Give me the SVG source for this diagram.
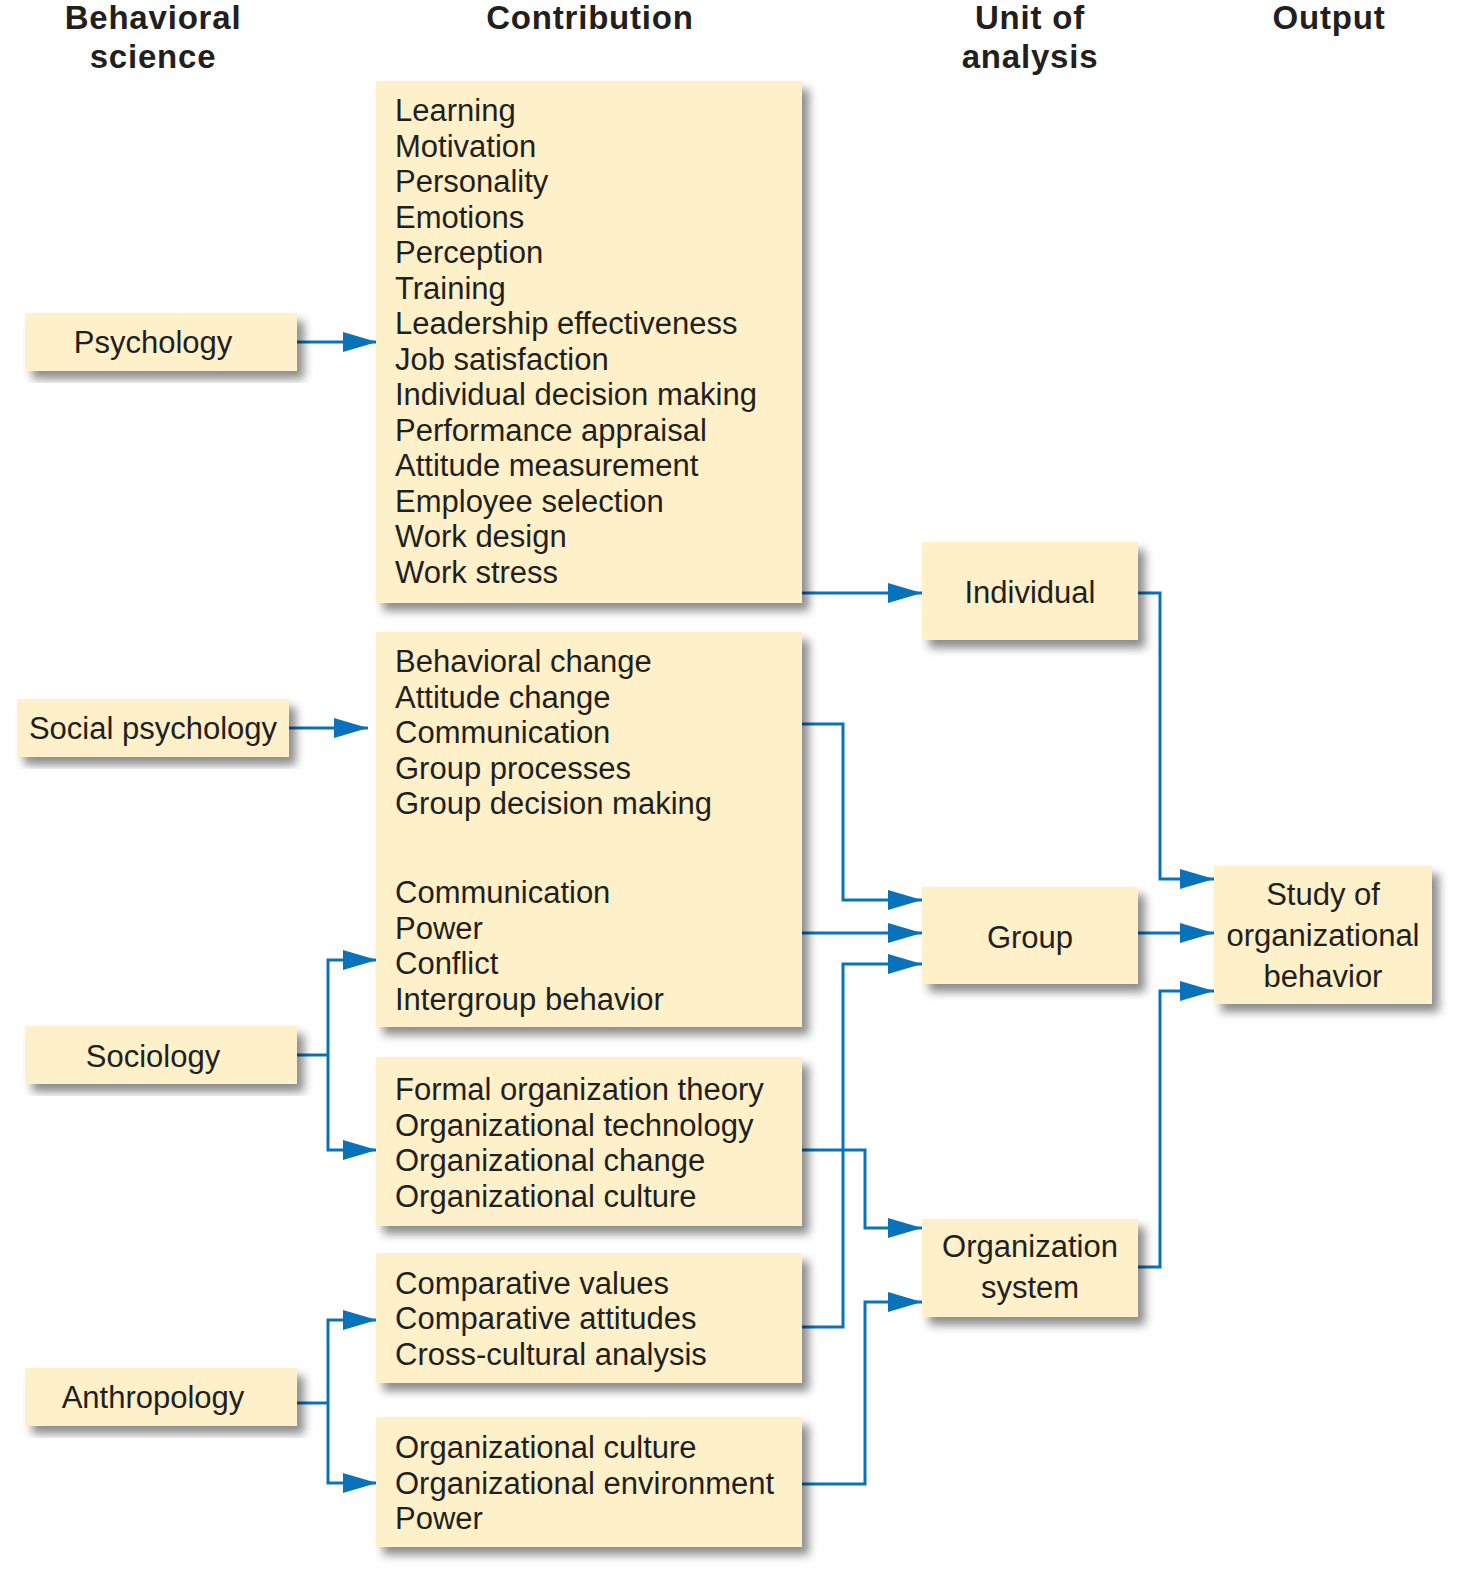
<svg xmlns="http://www.w3.org/2000/svg" width="1465" height="1581" viewBox="0 0 1465 1581">
<style>
.box{fill:#FEF0C9;filter:url(#sh)}
.t{font-family:"Liberation Sans",Arial,sans-serif;font-size:31px;fill:#231F20}
.c{text-anchor:middle}
.h{font-family:"Liberation Sans",Arial,sans-serif;font-size:33px;font-weight:bold;fill:#231F20;text-anchor:middle;letter-spacing:0.8px}
.ln{fill:none;stroke:#0A72BA;stroke-width:3}
.ar{marker-end:url(#ah)}
</style>
<defs>
<filter id="sh" x="-10%" y="-10%" width="130%" height="130%">
<feDropShadow dx="7" dy="8" stdDeviation="5" flood-color="#000" flood-opacity="0.45"/>
</filter>
<marker id="ah" markerUnits="userSpaceOnUse" markerWidth="34" markerHeight="20" refX="34" refY="10" orient="auto">
<path d="M0,0 L34,10 L0,20 z" fill="#0A72BA"/>
</marker>
</defs>
<rect width="1465" height="1581" fill="#fff"/>
<g id="headers">
<text class="h" x="153" y="29">Behavioral</text>
<text class="h" x="153" y="68">science</text>
<text class="h" x="590" y="29">Contribution</text>
<text class="h" x="1030" y="29">Unit of</text>
<text class="h" x="1030" y="68">analysis</text>
<text class="h" x="1329" y="29">Output</text>
</g>
<g id="connectors">
<path class="ln ar" d="M297,342 H377"/>
<path class="ln ar" d="M289,728 H368"/>
<path class="ln" d="M297,1055 H328"/>
<path class="ln ar" d="M328,1055 V960 H377"/>
<path class="ln ar" d="M328,1055 V1150 H377"/>
<path class="ln" d="M297,1403 H328"/>
<path class="ln ar" d="M328,1403 V1320 H377"/>
<path class="ln ar" d="M328,1403 V1483 H377"/>
<path class="ln ar" d="M802,593 H922"/>
<path class="ln ar" d="M802,724 H843 V900 H922"/>
<path class="ln ar" d="M802,933 H922"/>
<path class="ln ar" d="M802,1327 H843 V964 H922"/>
<path class="ln ar" d="M802,1150 H865 V1228 H922"/>
<path class="ln ar" d="M802,1484 H865 V1302 H922"/>
<path class="ln ar" d="M1138,593 H1160 V879 H1214"/>
<path class="ln ar" d="M1138,933 H1214"/>
<path class="ln ar" d="M1138,1267 H1160 V991 H1214"/>
</g>
<g id="psychology">
<rect class="box" x="25" y="313" width="272" height="58"/>
<text class="t c" x="153" y="353">Psychology</text>
</g>
<g id="social-psychology">
<rect class="box" x="17" y="699" width="272" height="58"/>
<text class="t c" x="153" y="739">Social psychology</text>
</g>
<g id="sociology">
<rect class="box" x="25" y="1026" width="272" height="58"/>
<text class="t c" x="153" y="1067">Sociology</text>
</g>
<g id="anthropology">
<rect class="box" x="25" y="1368" width="272" height="58"/>
<text class="t c" x="153" y="1408">Anthropology</text>
</g>
<g id="contrib-psychology">
<rect class="box" x="376" y="81" width="426" height="522"/>
<text class="t" x="395" y="121">Learning</text>
<text class="t" x="395" y="156.5">Motivation</text>
<text class="t" x="395" y="192">Personality</text>
<text class="t" x="395" y="227.5">Emotions</text>
<text class="t" x="395" y="263">Perception</text>
<text class="t" x="395" y="298.5">Training</text>
<text class="t" x="395" y="334">Leadership effectiveness</text>
<text class="t" x="395" y="369.5">Job satisfaction</text>
<text class="t" x="395" y="405">Individual decision making</text>
<text class="t" x="395" y="440.5">Performance appraisal</text>
<text class="t" x="395" y="476">Attitude measurement</text>
<text class="t" x="395" y="511.5">Employee selection</text>
<text class="t" x="395" y="547">Work design</text>
<text class="t" x="395" y="582.5">Work stress</text>
</g>
<g id="contrib-social">
<rect class="box" x="376" y="632" width="426" height="395"/>
<text class="t" x="395" y="672">Behavioral change</text>
<text class="t" x="395" y="707.5">Attitude change</text>
<text class="t" x="395" y="743">Communication</text>
<text class="t" x="395" y="778.5">Group processes</text>
<text class="t" x="395" y="814">Group decision making</text>
<text class="t" x="395" y="903">Communication</text>
<text class="t" x="395" y="938.5">Power</text>
<text class="t" x="395" y="974">Conflict</text>
<text class="t" x="395" y="1009.5">Intergroup behavior</text>
</g>
<g id="contrib-sociology">
<rect class="box" x="376" y="1057" width="426" height="169"/>
<text class="t" x="395" y="1100">Formal organization theory</text>
<text class="t" x="395" y="1135.5">Organizational technology</text>
<text class="t" x="395" y="1171">Organizational change</text>
<text class="t" x="395" y="1206.5">Organizational culture</text>
</g>
<g id="contrib-anthro-1">
<rect class="box" x="376" y="1253" width="426" height="130"/>
<text class="t" x="395" y="1293.5">Comparative values</text>
<text class="t" x="395" y="1329">Comparative attitudes</text>
<text class="t" x="395" y="1364.5">Cross-cultural analysis</text>
</g>
<g id="contrib-anthro-2">
<rect class="box" x="376" y="1417" width="426" height="130"/>
<text class="t" x="395" y="1458">Organizational culture</text>
<text class="t" x="395" y="1493.5">Organizational environment</text>
<text class="t" x="395" y="1529">Power</text>
</g>
<g id="individual">
<rect class="box" x="922" y="542" width="216" height="98"/>
<text class="t c" x="1030" y="603">Individual</text>
</g>
<g id="group">
<rect class="box" x="922" y="887" width="216" height="97"/>
<text class="t c" x="1030" y="948">Group</text>
</g>
<g id="organization-system">
<rect class="box" x="922" y="1219" width="216" height="98"/>
<text class="t c" x="1030" y="1257">Organization</text>
<text class="t c" x="1030" y="1298">system</text>
</g>
<g id="study-ob">
<rect class="box" x="1214" y="866" width="218" height="138"/>
<text class="t c" x="1323" y="905">Study of</text>
<text class="t c" x="1323" y="946">organizational</text>
<text class="t c" x="1323" y="987">behavior</text>
</g>
</svg>
